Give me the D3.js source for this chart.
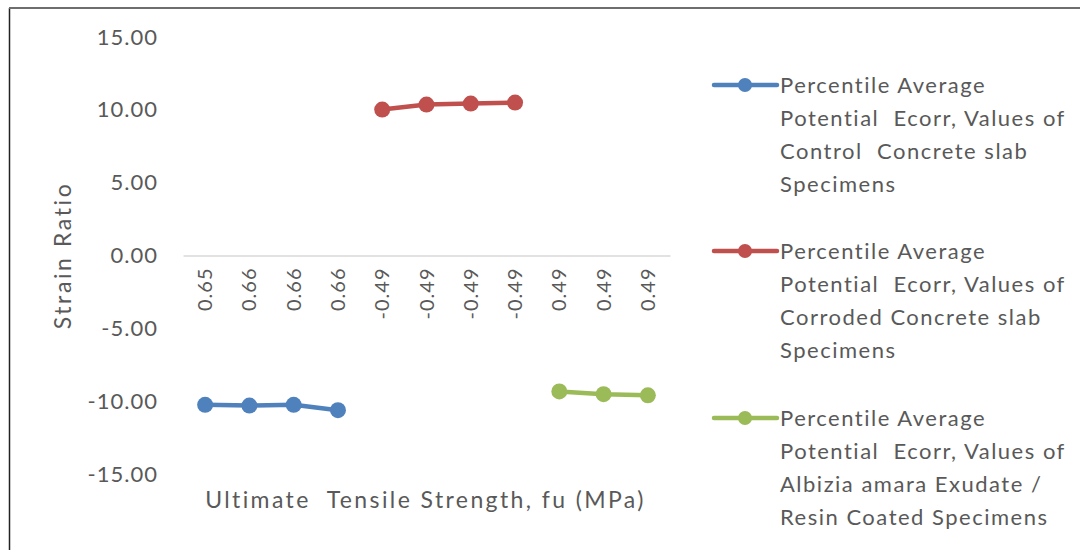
<!DOCTYPE html>
<html>
<head>
<meta charset="utf-8">
<script src="https://cdn.jsdelivr.net/npm/d3@7/dist/d3.min.js"></script>
<style>
  html, body { margin: 0; padding: 0; background: #fff; }
  svg { display: block; }
  text {
    font-family: Lato, "Open Sans", sans-serif;
    fill: #595959;
    font-variant-ligatures: none;
    white-space: pre;
  }
</style>
</head>
<body>
<svg id="chart" width="1080" height="550"></svg>
<script>
// Category labels along the x axis (ultimate tensile strength, MPa)
const categories = ["0.65", "0.66", "0.66", "0.66", "-0.49", "-0.49", "-0.49", "-0.49", "0.49", "0.49", "0.49"];

// Strain ratio per series; null where the series has no point
const controlValues  = [-10.25, -10.30, -10.25, -10.62, null, null, null, null, null, null, null];
const corrodedValues = [null, null, null, null, 10.02, 10.36, 10.43, 10.50, null, null, null];
const coatedValues   = [null, null, null, null, null, null, null, null, -9.33, -9.52, -9.60];

const yTicks = [15, 10, 5, 0, -5, -10, -15];

const seriesNames = [
  ["Percentile Average", "Potential  Ecorr, Values of", "Control  Concrete slab", "Specimens"],
  ["Percentile Average", "Potential  Ecorr, Values of", "Corroded Concrete slab", "Specimens"],
  ["Percentile Average", "Potential  Ecorr, Values of", "Albizia amara Exudate /", "Resin Coated Specimens"]
];
const seriesColors = ["#4F81BD", "#C0504D", "#9BBB59"];
const seriesValues = [controlValues, corrodedValues, coatedValues];

const svg = d3.select("#chart");

// Frame lines (left and top)
svg.append("line").attr("x1", 9.5).attr("x2", 9.5).attr("y1", 8).attr("y2", 550)
  .attr("stroke", "#222").attr("stroke-width", 1.5);
svg.append("line").attr("x1", 9).attr("x2", 1080).attr("y1", 8).attr("y2", 8)
  .attr("stroke", "#6e6e6e").attr("stroke-width", 2);

const plot = { left: 183, right: 670, top: 37, bottom: 474 };

const x = d3.scaleBand()
  .domain(d3.range(categories.length))
  .range([plot.left, plot.right]);

const y = d3.scaleLinear()
  .domain([-15, 15])
  .range([plot.bottom, plot.top]);

// Two decimals with a plain hyphen for negatives
const fmt = d => d3.format(".2f")(d).replace("\u2212", "-");

// Y axis labels (no axis line)
const yAxis = d3.axisLeft(y)
  .tickValues(yTicks)
  .tickSize(0)
  .tickPadding(0)
  .tickFormat(fmt);
const yG = svg.append("g").attr("transform", `translate(158,0)`).call(yAxis);
yG.select(".domain").remove();
yG.selectAll("text")
  .attr("font-size", 22)
  .attr("fill", "#595959")
  .attr("letter-spacing", 1)
  .style("font-family", "Lato, 'Open Sans', sans-serif");

// X axis at zero with rotated category labels
const xAxis = d3.axisBottom(x).tickSize(0).tickFormat(i => categories[i]);
const xG = svg.append("g").attr("transform", `translate(0,${y(0)})`).call(xAxis);
xG.select(".domain").attr("stroke", "#D9D9D9").attr("stroke-width", 1.5);
xG.selectAll("text")
  .attr("font-size", 20)
  .attr("fill", "#595959")
  .attr("letter-spacing", 1)
  .style("font-family", "Lato, 'Open Sans', sans-serif")
  .attr("transform", "rotate(-90)")
  .attr("text-anchor", "end")
  .attr("dy", "0.35em")
  .attr("x", -12)
  .attr("y", 0);

// Axis titles
svg.append("text")
  .attr("x", (plot.left + plot.right) / 2 - 1)
  .attr("y", 508)
  .attr("text-anchor", "middle")
  .attr("font-size", 23)
  .attr("letter-spacing", 2.4)
  .text("Ultimate  Tensile Strength, fu (MPa)");

svg.append("text")
  .attr("transform", `translate(71,${y(0)}) rotate(-90)`)
  .attr("text-anchor", "middle")
  .attr("font-size", 23)
  .attr("letter-spacing", 2.6)
  .text("Strain Ratio");

// Series lines and markers
const line = d3.line()
  .defined(d => d.v !== null)
  .x(d => x(d.i) + x.bandwidth() / 2)
  .y(d => y(d.v));

seriesValues.forEach((vals, s) => {
  const pts = vals.map((v, i) => ({ i, v }));
  svg.append("path")
    .datum(pts)
    .attr("d", line)
    .attr("fill", "none")
    .attr("stroke", seriesColors[s])
    .attr("stroke-width", 4.5)
    .attr("stroke-linejoin", "round");
  svg.selectAll(null)
    .data(pts.filter(d => d.v !== null))
    .enter().append("circle")
    .attr("cx", d => x(d.i) + x.bandwidth() / 2)
    .attr("cy", d => y(d.v))
    .attr("r", 8)
    .attr("fill", seriesColors[s]);
});

// Legend
const legendTops = [85, 251, 418];
seriesNames.forEach((lines, s) => {
  const g = svg.append("g").attr("transform", `translate(0,${legendTops[s]})`);
  g.append("line").attr("x1", 714).attr("x2", 777).attr("y1", 0).attr("y2", 0)
    .attr("stroke", seriesColors[s]).attr("stroke-width", 4.5).attr("stroke-linecap", "round");
  g.append("circle").attr("cx", 745).attr("cy", 0).attr("r", 7).attr("fill", seriesColors[s]);
  lines.forEach((t, k) => {
    g.append("text")
      .attr("x", 780)
      .attr("y", k * 33)
      .attr("dy", "0.35em")
      .attr("font-size", 22)
      .attr("letter-spacing", 1.5)
      .text(t);
  });
});
</script>
</body>
</html>
